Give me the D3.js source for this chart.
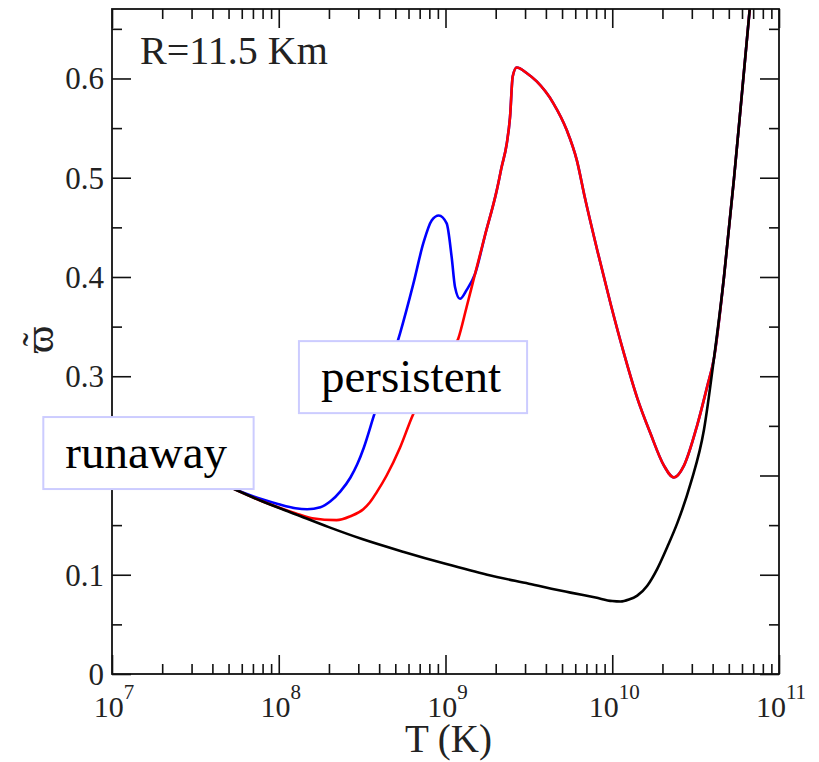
<!DOCTYPE html>
<html>
<head>
<meta charset="utf-8">
<script src="https://cdn.jsdelivr.net/npm/d3@7"></script>
<style>
  html, body { margin: 0; padding: 0; background: #fff; }
  svg { display: block; font-family: "Liberation Serif", "DejaVu Serif", serif; }
</style>
</head>
<body>
<div id="chart"></div>
<script>
// omega-tilde vs temperature, R = 11.5 km — curves as [log10 T, value]
const blackCurve = [
  [7.0, 0.240], [7.25, 0.222], [7.5, 0.204], [7.71, 0.188], [7.9, 0.174], [8.1, 0.161],
  [8.3, 0.148], [8.5, 0.136], [8.75, 0.123], [9.0, 0.111], [9.25, 0.100], [9.5, 0.091],
  [9.75, 0.082], [9.9, 0.077], [10.0, 0.0735], [10.05, 0.073], [10.1, 0.075], [10.15, 0.079],
  [10.21, 0.089], [10.27, 0.106], [10.33, 0.128], [10.39, 0.152], [10.47, 0.192], [10.55, 0.246],
  [10.61, 0.318], [10.67, 0.400], [10.73, 0.499], [10.78, 0.589], [10.83, 0.680]
];
const blueCurve = [
  [7.0, 0.240], [7.25, 0.222], [7.5, 0.204], [7.71, 0.188], [7.9, 0.176], [8.0, 0.171],
  [8.1, 0.167], [8.17, 0.166], [8.25, 0.168], [8.31, 0.174], [8.37, 0.184], [8.43, 0.198],
  [8.47, 0.211], [8.51, 0.228], [8.57, 0.260], [8.65, 0.302], [8.727, 0.343], [8.807, 0.393],
  [8.867, 0.434], [8.917, 0.457], [8.96, 0.462], [9.007, 0.454], [9.037, 0.420], [9.057, 0.390],
  [9.087, 0.378], [9.127, 0.387], [9.177, 0.403], [9.237, 0.442], [9.307, 0.487], [9.337, 0.511],
  [9.367, 0.534], [9.387, 0.561], [9.403, 0.602], [9.427, 0.611], [9.49, 0.605], [9.547, 0.597],
  [9.647, 0.575], [9.727, 0.548], [9.787, 0.518], [9.837, 0.479], [9.91, 0.427], [9.99, 0.373],
  [10.07, 0.323], [10.15, 0.278], [10.23, 0.242], [10.31, 0.210], [10.37, 0.198], [10.43, 0.210],
  [10.51, 0.251], [10.57, 0.290], [10.61, 0.318], [10.67, 0.400], [10.73, 0.499], [10.78, 0.589],
  [10.83, 0.680]
];
const redCurve = [
  [7.0, 0.240], [7.25, 0.222], [7.5, 0.204], [7.71, 0.188], [7.9, 0.174], [8.1, 0.162],
  [8.2, 0.157], [8.347, 0.155], [8.43, 0.159], [8.507, 0.166], [8.547, 0.173], [8.587, 0.183],
  [8.647, 0.200], [8.727, 0.228], [8.807, 0.262], [8.9, 0.290], [9.0, 0.316], [9.077, 0.338],
  [9.127, 0.370], [9.177, 0.403], [9.237, 0.442], [9.307, 0.487], [9.337, 0.511], [9.367, 0.534],
  [9.387, 0.561], [9.403, 0.602], [9.427, 0.611], [9.49, 0.605], [9.547, 0.597], [9.647, 0.575],
  [9.727, 0.548], [9.787, 0.518], [9.837, 0.479], [9.91, 0.427], [9.99, 0.373], [10.07, 0.323],
  [10.15, 0.278], [10.23, 0.242], [10.31, 0.210], [10.37, 0.198], [10.43, 0.210], [10.51, 0.251],
  [10.57, 0.290], [10.61, 0.318], [10.67, 0.400], [10.73, 0.499], [10.78, 0.589], [10.83, 0.680]
];

const decadeExps = [7, 8, 9, 10, 11];
const yMajor = [0, 0.1, 0.2, 0.3, 0.4, 0.5, 0.6];
const yMinor = [0.05, 0.15, 0.25, 0.35, 0.45, 0.55, 0.65];
const yLabels = ['0', '0.1', '', '0.3', '0.4', '0.5', '0.6']; // 0.2 sits under the "runaway" box
// annotation boxes: text anchored at [log10 T, value]
const notes = [
  { text: 'runaway', at: [6.72, 0.2075] },
  { text: 'persistent', at: [8.253, 0.284] }
];
const title = { text: 'R=11.5 Km', at: [7.168, 0.615] };

const W = 819, H = 762;
const margin = { top: 9, right: 40, bottom: 88, left: 112 };

const svg = d3.select('#chart').append('svg').attr('width', W).attr('height', H);

const x = d3.scaleLog().domain([1e7, 1e11]).range([margin.left, W - margin.right]);
const y = d3.scaleLinear().domain([0, 0.67]).range([H - margin.bottom, margin.top]);
const X0 = x.range()[0], X1 = x.range()[1], Y0 = y.range()[0], Y1 = y.range()[1];

svg.append('defs').append('clipPath').attr('id', 'plot')
  .append('rect').attr('x', X0).attr('y', Y1).attr('width', X1 - X0).attr('height', Y0 - Y1);

// minor log ticks: 2..9 in each decade
const xMinor = [];
decadeExps.slice(0, -1).forEach(e => { for (let k = 2; k <= 9; k++) xMinor.push(k * Math.pow(10, e)); });
const xMajor = decadeExps.map(e => Math.pow(10, e));

function tickAxis(axisFn, scale, vals, size, tx, ty) {
  const g = svg.append('g').attr('transform', `translate(${tx},${ty})`)
    .call(axisFn(scale).tickValues(vals).tickSizeInner(-size).tickSizeOuter(0).tickFormat(''));
  g.select('.domain').remove();
  g.selectAll('line').attr('stroke', '#111').attr('stroke-width', 1.6);
}
tickAxis(d3.axisBottom, x, xMajor, 19, 0, Y0);
tickAxis(d3.axisBottom, x, xMinor, 10, 0, Y0);
tickAxis(d3.axisTop, x, xMajor, 19, 0, Y1);
tickAxis(d3.axisTop, x, xMinor, 10, 0, Y1);
tickAxis(d3.axisLeft, y, yMajor, 19, X0, 0);
tickAxis(d3.axisLeft, y, yMinor, 10, X0, 0);
tickAxis(d3.axisRight, y, yMajor, 19, X1, 0);
tickAxis(d3.axisRight, y, yMinor, 10, X1, 0);

// curves
const line = d3.line()
  .x(d => x(Math.pow(10, d[0])))
  .y(d => y(d[1]))
  .curve(d3.curveMonotoneX);
const plot = svg.append('g').attr('clip-path', 'url(#plot)');
[[blueCurve, '#0000ff'], [redCurve, '#ff0000'], [blackCurve, '#000000']].forEach(([data, c]) => {
  plot.append('path').datum(data).attr('d', line)
    .attr('fill', 'none').attr('stroke', c).attr('stroke-width', 2.6)
    .attr('stroke-linejoin', 'round');
});

// frame
svg.append('rect').attr('x', X0).attr('y', Y1).attr('width', X1 - X0).attr('height', Y0 - Y1)
  .attr('fill', 'none').attr('stroke', '#111').attr('stroke-width', 1.8);

// x tick labels 10^n
xMajor.forEach((v, i) => {
  const t = svg.append('text').attr('x', x(v) + 2).attr('y', Y0 + 43)
    .attr('text-anchor', 'middle').attr('font-size', 30).attr('fill', '#222');
  t.append('tspan').text('10');
  t.append('tspan').attr('dy', -18).attr('font-size', 21).text(decadeExps[i]);
});

// y tick labels
yMajor.forEach((v, i) => {
  if (!yLabels[i]) return;
  svg.append('text').attr('x', X0 - 8).attr('y', y(v)).attr('dy', '0.35em')
    .attr('text-anchor', 'end').attr('font-size', 31).attr('fill', '#222').text(yLabels[i]);
});

// axis titles
svg.append('text').attr('x', (X0 + X1) / 2 + 3).attr('y', 752)
  .attr('text-anchor', 'middle').attr('font-size', 39).attr('fill', '#222').text('T (K)');
const yTitle = svg.append('g').attr('transform', `translate(53,${(Y0 + Y1) / 2 - 2}) rotate(-90)`)
  .attr('fill', '#222');
yTitle.append('text').attr('text-anchor', 'middle').attr('font-size', 42).text('\u03D6');
yTitle.append('text').attr('text-anchor', 'middle').attr('y', -3).attr('font-size', 40).text('\u02DC');

// R label
svg.append('text').attr('x', x(Math.pow(10, title.at[0]))).attr('y', y(title.at[1]))
  .attr('font-size', 40).attr('fill', '#222').text(title.text);

// boxed annotations
notes.forEach(n => {
  const g = svg.append('g');
  const t = g.append('text').attr('x', x(Math.pow(10, n.at[0]))).attr('y', y(n.at[1]))
    .attr('font-size', 47).attr('fill', '#000').text(n.text);
  const b = t.node().getBBox();
  g.insert('rect', 'text')
    .attr('x', b.x - 22).attr('y', b.y - 9).attr('width', b.width + 48).attr('height', b.height + 20)
    .attr('fill', '#fff').attr('stroke', '#ccccff').attr('stroke-width', 2);
});
</script>
</body>
</html>
